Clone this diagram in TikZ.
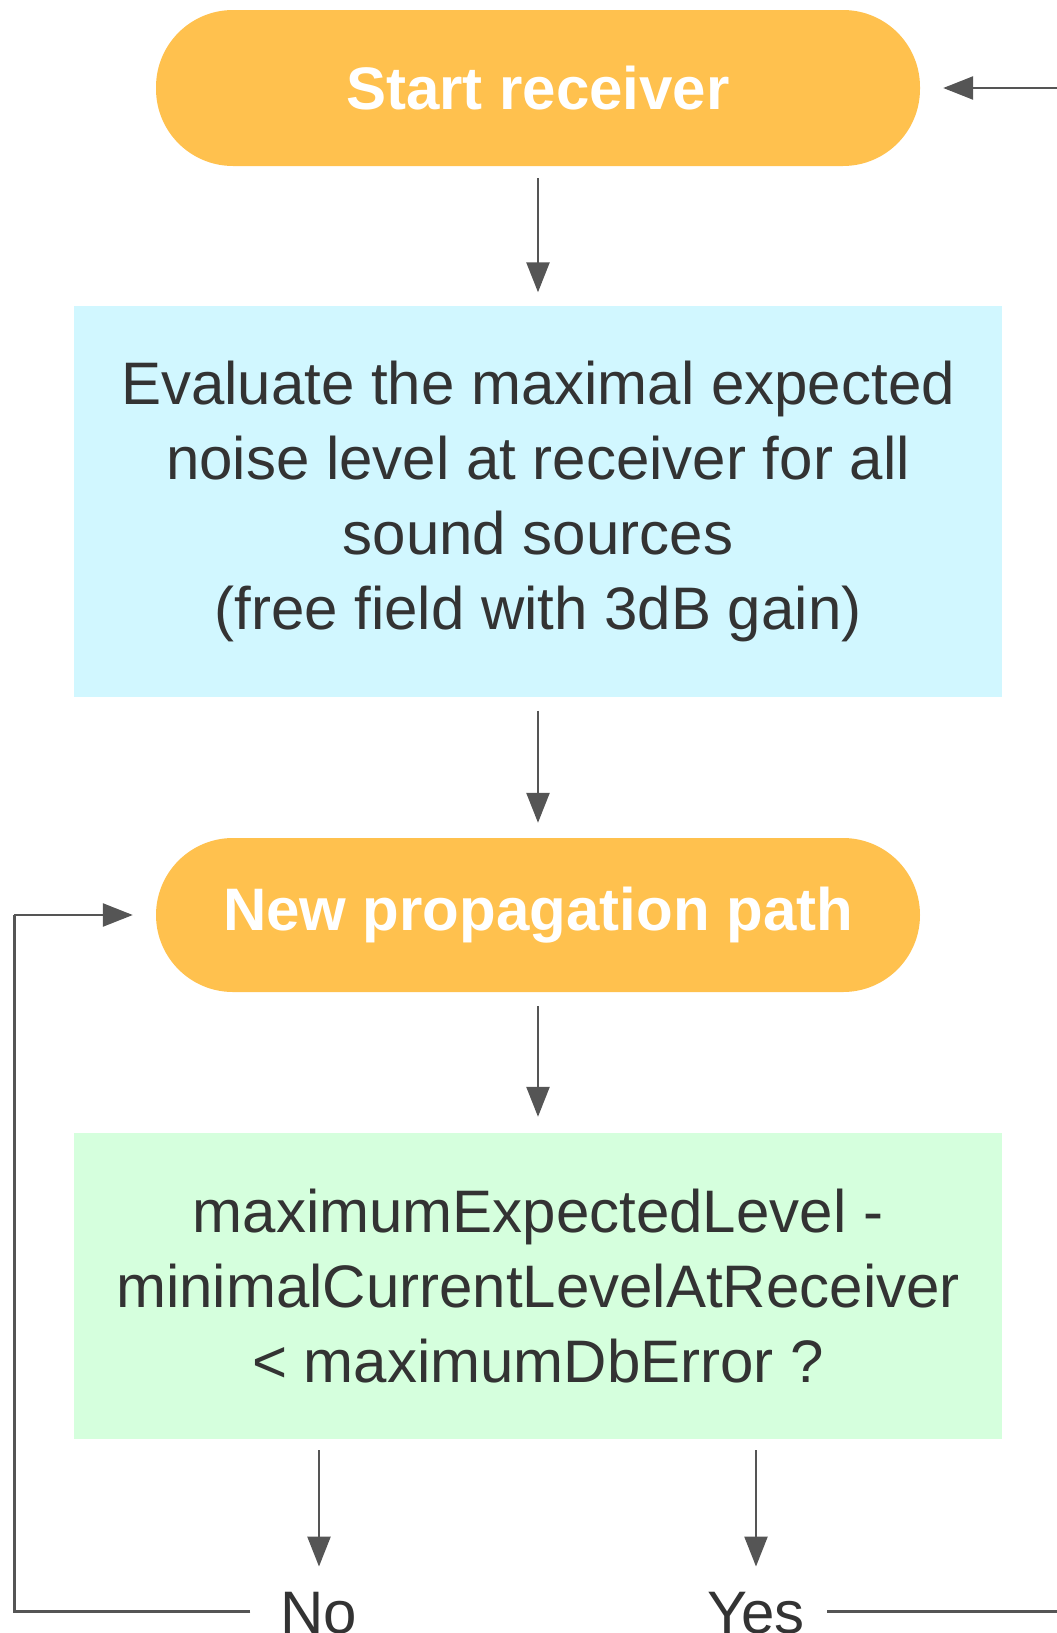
\documentclass[tikz,border=0pt]{standalone}
\usepackage{fontspec}
\setmainfont{Liberation Sans}
\usetikzlibrary{arrows.meta}
\definecolor{pillorange}{HTML}{FFC14E}
\definecolor{evalblue}{HTML}{D1F7FF}
\definecolor{testgreen}{HTML}{D5FFDD}
\definecolor{linegray}{HTML}{555555}
\definecolor{textgray}{HTML}{333333}
\tikzset{
	pill/.style={fill=pillorange, rounded corners=77pt, minimum width=764pt, text=white,
		font=\fontsize{60}{75}\selectfont\bfseries, inner sep=0pt},
	procbox/.style={minimum width=928pt, text=textgray, align=center,
		font=\fontsize{60}{75}\selectfont, inner sep=0pt},
	answer/.style={text=textgray, font=\fontsize{60}{75}\selectfont, inner sep=0pt},
	flow/.style={draw=linegray, line width=2.5pt, -{Triangle[length=30pt,width=23pt]}},
	wire/.style={draw=linegray, line width=3pt}
}

\begin{document}
\begin{tikzpicture}[x=1pt, y=-1pt] % one unit = one pixel of the layout
	% Page frame
	\clip (0,0) rectangle (1057,1633);
	
	% Start and loop nodes
	\node[pill, minimum height=156pt] (start) at (538,88) {Start receiver};
	\node[procbox, fill=evalblue, minimum height=391pt] (eval) at (538,501)
	{Evaluate the maximal expected\\noise level at receiver for all\\sound sources\\(free field with 3dB gain)};
	\node[pill, minimum height=154pt] (path) at (538,915) {New propagation path};
	\node[procbox, fill=testgreen, minimum height=306pt] (test) at (538,1286)
	{maximumExpectedLevel -\\minimalCurrentLevelAtReceiver\\< maximumDbError ?};
	
	% Answers, cut by the lower edge
	\node[answer, anchor=base] (no) at (319,1633) {No};
	\node[answer, anchor=base] (yes) at (756,1633) {Yes};
	
	% Downward arrows
	\draw[flow, shorten <=12pt, shorten >=13pt] (start) -- (eval);
	\draw[flow, shorten <=14pt, shorten >=15pt] (eval) -- (path);
	\draw[flow, shorten <=14pt, shorten >=16pt] (path) -- (test);
	\draw[flow, shorten <=11pt, shorten >=25pt] (test.south -| no) -- (no.north);
	\draw[flow, shorten <=11pt, shorten >=25pt] (test.south -| yes) -- (yes.north);
	
	% No: back to the new path
	\coordinate (noleft) at (14,1611);
	\coordinate (nocorner) at (noleft |- path.west);
	\draw[wire] (no.west |- noleft) ++(-30,0) -- (noleft) -- (nocorner);
	\draw[flow, shorten >=23pt] (nocorner) -- (path.west);
	
	% Yes: back to the start, round the right edge
	\coordinate (yesright) at (1080,1611);
	\coordinate (yescorner) at (yesright |- start.east);
	\draw[wire] (yes.east |- yesright) ++(22,0) -- (yesright) -- (yescorner);
	\draw[flow, shorten >=23pt] (yescorner) -- (start.east);
\end{tikzpicture}
\end{document}
